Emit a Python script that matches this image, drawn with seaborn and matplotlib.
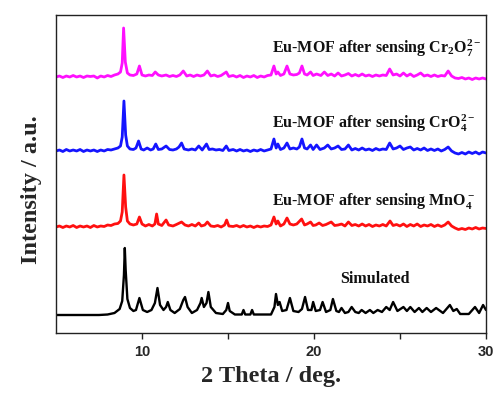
import matplotlib
matplotlib.use("Agg")
import matplotlib.pyplot as plt
import seaborn as sns
import pandas as pd

# ---------------- data ----------------
sim_x = [5, 7.5, 8.0, 8.4, 8.7, 8.85, 8.95, 9.0, 9.05, 9.15, 9.3, 9.5, 9.65, 9.85, 10.05, 10.3, 10.55, 10.75,
         10.9, 11.05, 11.25, 11.4, 11.5, 11.65, 11.9, 12.2, 12.4, 12.5, 12.65, 12.9, 13.2, 13.4, 13.47, 13.6,
         13.75, 13.86, 14.0, 14.3, 14.7, 14.9, 15.0, 15.1, 15.4, 15.8, 15.9, 16.0, 16.3, 16.4, 16.5, 17.5, 17.7,
         17.79, 17.9, 18.0, 18.15, 18.4, 18.6, 18.8, 19.1, 19.3, 19.48, 19.65, 19.85, 19.95, 20.1, 20.35, 20.5,
         20.7, 20.95, 21.1, 21.3, 21.45, 21.6, 21.8, 22.0, 22.19, 22.4, 22.6, 22.77, 23.0, 23.25, 23.45, 23.7,
         23.95, 24.2, 24.4, 24.6, 24.85, 25.2, 25.4, 25.6, 25.85, 26.1, 26.3, 26.55, 26.8, 27.1, 27.5, 27.9,
         28.1, 28.3, 28.5, 29.0, 29.36, 29.6, 29.83, 30]
sim_y = [0, 0, 0.5, 2, 6, 14, 40, 67, 45, 16, 7, 4, 5, 17, 5, 3, 5, 12,
         27, 10, 5, 8, 13, 5, 2, 6, 15, 18, 8, 2, 5, 12, 17, 8,
         12, 23, 8, 2, 1, 5, 12, 4, 0.5, 0.5, 5, 0.5, 0.5, 5, 0.5, 0.5, 8,
         21, 10, 13, 4, 5, 17, 4, 3, 6, 18, 5, 5, 13, 4, 5, 13,
         3, 5, 16, 4, 3, 7, 2, 3, 8, 3, 2, 5, 2, 5, 2, 5,
         3, 8, 5, 13, 4, 8, 4, 8, 3, 7, 3, 7, 3, 7, 2, 10,
         4, 6, 1, 1, 8, 2, 10, 5]

mno4_x = [5.0, 5.2, 5.4, 5.6, 5.8, 6.0, 6.2, 6.4, 6.6, 6.8, 7.0, 7.2, 7.4, 7.6, 7.8, 8.0, 8.2, 8.4, 8.6, 8.75,
          8.85, 8.95, 9.05, 9.15, 9.3, 9.5, 9.7, 9.85, 10.0, 10.2, 10.4, 10.6, 10.75, 10.85, 10.95, 11.15, 11.4,
          11.55, 11.8, 12.0, 12.3, 12.5, 12.7, 12.9, 13.1, 13.3, 13.45, 13.65, 13.8, 14.0, 14.2, 14.4, 14.6,
          14.8, 14.92, 15.05, 15.3, 15.5, 15.7, 15.9, 16.1, 16.3, 16.5, 16.7, 16.9, 17.1, 17.3, 17.5, 17.67,
          17.8, 17.9, 18.05, 18.25, 18.43, 18.6, 18.8, 19.0, 19.28, 19.45, 19.6, 19.8, 19.95, 20.1, 20.3, 20.5,
          20.7, 21.0, 21.2, 21.4, 21.6, 21.8, 22.0, 22.2, 22.4, 22.6, 22.8, 23.0, 23.2, 23.4, 23.6, 23.8, 24.0,
          24.2, 24.42, 24.6, 24.8, 25.0, 25.2, 25.4, 25.6, 25.8, 26.0, 26.2, 26.4, 26.6, 26.8, 27.0, 27.2,
          27.4, 27.6, 27.8, 28.0, 28.2, 28.4, 28.6, 28.8, 29.0, 29.2, 29.4, 29.6, 29.8, 30.0]
mno4_y = [0, 1, -0.5, 1, 0, 1.5, -0.5, 1, 0, 1, -0.5, 1.5, 0, 1, 0.5, 2, 1.5, 3, 3.5, 6,
          15, 52, 20, 6, 3, 2, 3, 10, 3, 1, 2.5, 1, 3, 13, 3, 1.5, 7,
          2, 1, 2.5, 5, 2, 1, 2.5, 1, 4, 1, 2, 5, 1, 0.5, 1.5, 0,
          2, 7, 1, 0.5, 1.5, 0, 1.5, 0, 1, -0.5, 1, 0, 1, 0.5, 2, 10,
          3, 6, 1, 3, 9, 3, 2, 3, 8, 2, 3, 5, 1.5, 2, 4, 1.5,
          2.5, 5, 1.5, 2, 3, 1, 5, 1.5, 2.5, 1, 3, 1, 2.5, 0.5, 2, 1, 2.5,
          1, 6, 1.5, 2.5, 1, 3, 0.5, 2.5, 1, 3, 0.5, 2, 1, 2.5, 0.5, 2,
          0.5, 2, 5, 1, -1, -2.5, -1.5, -2.5, -1, -2, -0.5, -2, -1, -1.5]

cro4_x = [5.0, 5.2, 5.4, 5.6, 5.8, 6.0, 6.2, 6.4, 6.6, 6.8, 7.0, 7.2, 7.4, 7.6, 7.8, 8.0, 8.2, 8.4, 8.6, 8.75,
          8.85, 8.95, 9.05, 9.15, 9.3, 9.5, 9.65, 9.8, 9.95, 10.1, 10.3, 10.5, 10.65, 10.8, 10.95, 11.15, 11.4,
          11.6, 11.8, 12.0, 12.15, 12.3, 12.45, 12.7, 12.9, 13.1, 13.3, 13.5, 13.75, 13.9, 14.1, 14.3, 14.5,
          14.7, 14.9, 15.05, 15.3, 15.5, 15.7, 15.9, 16.1, 16.3, 16.5, 16.7, 16.9, 17.1, 17.3, 17.5, 17.67,
          17.8, 17.9, 18.05, 18.25, 18.43, 18.6, 18.8, 19.0, 19.15, 19.3, 19.45, 19.6, 19.8, 19.95, 20.15,
          20.35, 20.6, 20.8, 21.0, 21.2, 21.4, 21.6, 21.8, 22.0, 22.2, 22.4, 22.6, 22.8, 23.0, 23.2, 23.4,
          23.6, 23.8, 24.0, 24.2, 24.4, 24.6, 24.8, 25.0, 25.2, 25.4, 25.6, 25.8, 26.0, 26.2, 26.4, 26.6,
          26.8, 27.0, 27.2, 27.4, 27.6, 27.8, 28.0, 28.2, 28.4, 28.6, 28.8, 29.0, 29.2, 29.4, 29.6, 29.8, 30.0]
cro4_y = [0, 1, -0.5, 1.5, 0, 1, 0, 1.5, -0.5, 1, 0, 1, -0.5, 1, 0, 1.5, 1, 2, 3, 5,
          14, 50, 16, 5, 2, 1.5, 3, 10, 2, 1, 3, 1, 2, 7, 1.5, 2, 5,
          1.5, 1, 2, 4, 8, 2, 1, 2, 1, 5, 1, 7, 1.5, 2, 1, 1.5,
          0.5, 5, 0.5, 1.5, 0, 1.5, 0, 1, -0.5, 1, 0, 1.5, 0, 1, 2, 12,
          3, 7, 1.5, 3, 8, 2, 3, 2, 4, 12, 3, 2, 6, 1.5, 6,
          1.5, 3, 6, 2, 3, 5, 1.5, 2, 6, 1, 2.5, 1, 3, 1, 2, 0.5,
          2.5, 1, 2, 1.5, 8, 2, 3, 5, 1.5, 3, 4, 1, 2.5, 1, 3, 0.5,
          2, 0.5, 2, 0, 1.5, 4, 0, -2, -3, -1.5, -3, -1, -2.5, -1, -3, -1, -2]

cr2o7_x = [5.0, 5.2, 5.4, 5.6, 5.8, 6.0, 6.2, 6.4, 6.6, 6.8, 7.0, 7.2, 7.4, 7.6, 7.8, 8.0, 8.2, 8.4, 8.6, 8.75,
           8.85, 8.93, 9.03, 9.15, 9.3, 9.5, 9.7, 9.85, 10.0, 10.2, 10.4, 10.6, 10.77, 10.95, 11.15, 11.4,
           11.6, 11.8, 12.0, 12.2, 12.4, 12.6, 12.8, 13.0, 13.2, 13.4, 13.6, 13.8, 14.0, 14.2, 14.4, 14.6,
           14.9, 15.05, 15.3, 15.5, 15.7, 15.9, 16.1, 16.3, 16.5, 16.7, 16.9, 17.1, 17.3, 17.5, 17.67, 17.8,
           17.9, 18.05, 18.25, 18.43, 18.6, 18.8, 19.0, 19.15, 19.3, 19.45, 19.6, 19.8, 19.95, 20.15, 20.4,
           20.6, 20.8, 21.0, 21.2, 21.4, 21.6, 21.8, 22.0, 22.2, 22.4, 22.6, 22.8, 23.0, 23.2, 23.4, 23.6,
           23.8, 24.0, 24.2, 24.4, 24.6, 24.8, 25.0, 25.2, 25.4, 25.6, 25.8, 26.0, 26.2, 26.4, 26.6, 26.8,
           27.0, 27.2, 27.4, 27.6, 27.8, 28.0, 28.2, 28.4, 28.6, 28.8, 29.0, 29.2, 29.4, 29.6, 29.8, 30.0]
cr2o7_y = [0, 1, -0.5, 1, 0, 1.5, 0, 1, -0.5, 1, 0.5, 1, -1, 1, 0, 1.5, 0.5, 2, 3, 5,
           14, 49, 15, 4, 2, 1.5, 3, 11, 2, 1, 2, 1.5, 5, 2, 1, 2,
           0.5, 1.5, 0.5, 2, 6, 1, 2, 0.5, 2, 1, 2, 6, 1, 2, 0.5, 1.5,
           5, 0.5, 1.5, 0, 1.5, -0.5, 1, 0, 1.5, -0.5, 1, 0, 1.5, 2, 11, 3,
           5, 1.5, 3, 11, 3, 2, 2.5, 4, 11, 3, 2, 5, 1.5, 3, 1.5,
           5, 1.5, 3, 1, 4, 1, 2, 3.5, 1, 2.5, 1, 3, 1, 2, 0.5, 2,
           1, 2, 1.5, 8, 2, 3, 1, 4, 1, 3, 0.5, 2, 4, 1, 2, 0.5,
           2, 0.5, 1.5, 1, 6, 1, -1, -1.5, -0.5, -2, -1, -2.5, -1, -2, -1, -2]

series_names = ["Simulated", "MnO4", "CrO4", "Cr2O7"]
series_offsets = [0, 88, 164, 238]
series_colors = ["#000000", "#FF1010", "#1515FF", "#FF10FF"]

labels = [r"Simulated",
          r"Eu-MOF after sensing MnO$_4^-$",
          r"Eu-MOF after sensing CrO$_4^{2-}$",
          r"Eu-MOF after sensing Cr$_2$O$_7^{2-}$"]
label_pos = [(21.5, 32), (17.55, 110), (17.55, 187), (17.55, 262)]

xticks = [10, 20, 30]

# ---------------- plotting ----------------
sns.set_style("ticks")
plt.rcParams["mathtext.fontset"] = "custom"
plt.rcParams["mathtext.rm"] = "Liberation Serif:bold"
plt.rcParams["mathtext.it"] = "Liberation Serif:bold"
plt.rcParams["mathtext.bf"] = "Liberation Serif:bold"
plt.rcParams["mathtext.default"] = "rm"

fig = plt.figure(figsize=(4.96, 3.94), dpi=100)
ax = fig.add_axes([56 / 496, 61 / 394, 430 / 496, 318 / 394])

xs = [sim_x, mno4_x, cro4_x, cr2o7_x]
ys = [sim_y, mno4_y, cro4_y, cr2o7_y]
frames = []
for name, x, y, off in zip(series_names, xs, ys, series_offsets):
    frames.append(pd.DataFrame({"x": x, "y": [v + off for v in y], "s": name}))
df = pd.concat(frames, ignore_index=True)

for name, col in zip(series_names, series_colors):
    sub = df[df["s"] == name]
    sns.lineplot(data=sub, x="x", y="y", ax=ax, color=col, lw=2.0 if name != "Simulated" else 1.7,
                 sort=False, estimator=None)

for txt, (tx, ty) in zip(labels, label_pos):
    ax.text(tx, ty, txt, fontsize=11.5, fontfamily="Liberation Serif", fontweight="bold",
            ha="left", va="baseline", color="#111111")

ax.set_xlim(5, 30)
ax.set_ylim(-18, 300)
ax.set_xticks(xticks)
ax.set_xticks([15, 25], minor=True)
ax.set_yticks([])
ax.tick_params(axis="x", which="both", direction="out", length=4, width=1, pad=5, color="#222222")
for lab in ax.get_xticklabels():
    lab.set_fontfamily("Liberation Sans")
    lab.set_fontweight("bold")
    lab.set_fontsize(10.5)
for sp in ax.spines.values():
    sp.set_visible(True)
    sp.set_linewidth(1.0)
    sp.set_color("#222222")

ax.set_xlabel("2 Theta / deg.", fontfamily="Liberation Serif", fontweight="bold", fontsize=17.5, labelpad=5)
ax.set_ylabel("Intensity / a.u.", fontfamily="Liberation Serif", fontweight="bold", fontsize=17.5)
ax.yaxis.set_label_coords(-0.032, 0.45)

fig.savefig("out.png", dpi=100)
